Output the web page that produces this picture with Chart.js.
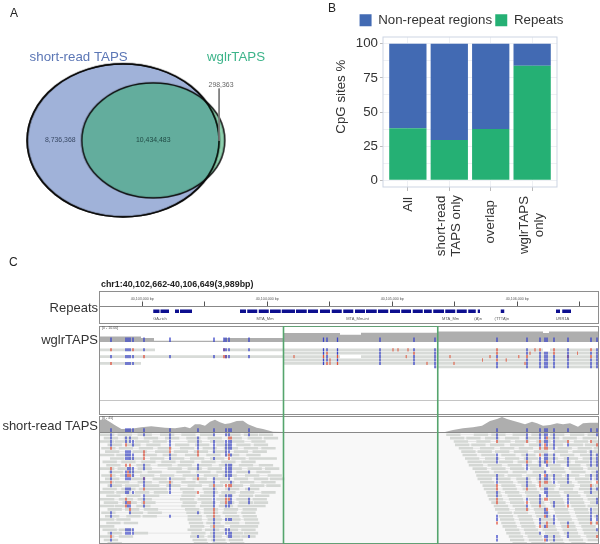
<!DOCTYPE html>
<html>
<head>
<meta charset="utf-8">
<title>wglrTAPS figure</title>
<script src="https://cdn.jsdelivr.net/npm/chart.js@4"></script>
<style>
  html, body { margin: 0; background: #fff; }
  #fig { position: relative; width: 600px; height: 544px; overflow: hidden; font-family: "Liberation Sans", Arial, sans-serif; filter: blur(0.35px); }
  #fig canvas { position: absolute; }
  .txt { position: absolute; white-space: nowrap; line-height: 1; color: #222; }
  .side { right: 502px; font-size: 13px; color: #333; }
  .letter { font-size: 12px; color: #222; }
  .tiny { font-size: 3.6px; color: #555; }
  .box { position: absolute; box-sizing: border-box; border: 1px solid #8e8e8e; left: 99px; width: 500px; }
  .line { position: absolute; left: 100px; width: 498px; height: 1px; }
</style>
</head>
<body>
<div id="fig">
  <div class="txt letter" style="left:10px;top:7px">A</div>
  <div class="txt letter" style="left:328px;top:2px">B</div>
  <div class="txt letter" style="left:9px;top:256px">C</div>
  <div class="txt" style="left:101px;top:280px;font-size:8.9px;font-weight:bold">chr1:40,102,662-40,106,649(3,989bp)</div>
  <div class="txt side" style="top:301px">Repeats</div>
  <div class="txt side" style="top:333px">wglrTAPS</div>
  <div class="txt side" style="top:419px">short-read TAPS</div>

  <div class="box" style="top:291px;height:33px"></div>
  <div class="box" style="top:326px;height:89px"></div>
  <div class="line" style="top:400px;background:#c4c4c4"></div>
  <div class="box" style="top:416px;height:128px"></div>
  <div class="line" style="top:432px;background:#888"></div>
  <div class="txt tiny" style="left:102px;top:327px">[0 - 10.00]</div>
  <div class="txt tiny" style="left:102px;top:417px">[0 - 45]</div>
</div>

<script>
// --- panel A: venn counts
const vennNames = ['short-read TAPS', 'wglrTAPS'];
const vennCounts = ['8,736,368', '10,434,483', '298,363'];

// --- panel B: CpG sites %
const categories = ['All', 'short-read\nTAPS only', 'overlap', 'wglrTAPS\nonly'];
const repeatPct = [38, 29.5, 37.5, 84];
const nonRepeatPct = [62, 70.5, 62.5, 16];
const yTickLabels = [0, 25, 50, 75, 100];
const yGridValues = [0, 12.5, 25, 37.5, 50, 62.5, 75, 87.5, 100];

// --- panel C: all positions in bp from chr1:40,102,662
const rulerMajor = [338, 1338, 2338, 3338];
const rulerMinor = [838, 1838, 2838, 3838];
const rulerLabels = ['40,103,000 bp', '40,104,000 bp', '40,105,000 bp', '40,106,000 bp'];
const repeatStart = [426, 484, 600, 640, 1120, 1178, 1270, 1360, 1454, 1568, 1664, 1760, 1854, 1946, 2040, 2128, 2224, 2320, 2410, 2502, 2592, 2666, 2762, 2854, 2946, 3022, 3206, 3648, 3698];
const repeatEnd = [476, 552, 632, 736, 1168, 1258, 1350, 1446, 1560, 1654, 1744, 1840, 1934, 2026, 2120, 2214, 2306, 2400, 2488, 2582, 2654, 2752, 2842, 2934, 3006, 3040, 3234, 3680, 3768];
const repeatNames = ['GA-rich', 'MTA_Mm', 'MTA_Mm-int', 'MTA_Mm', '(A)n', '(TTTA)n', 'URR1A'];
const repeatNameAt = [480, 1320, 2060, 2805, 3025, 3215, 3700];
const highlightStart = 1468;
const highlightEnd = 2702;

const wglrCovX = [0, 328, 328, 432, 432, 992, 992, 1464, 1464, 1920, 1920, 2088, 2088, 2696, 2696, 3544, 3544, 3592, 3592, 3984];
const wglrCovY = [3.7, 3.7, 2.6, 2.6, 0.8, 0.8, 2.7, 2.7, 6, 6, 4.8, 4.8, 6.2, 6.2, 7, 7, 6, 6, 7, 7];
const shortCovX = [0, 40, 77, 117, 171, 250, 330, 410, 520, 600, 680, 720, 760, 800, 840, 880, 920, 960, 1000, 1040, 1094, 1144, 1184, 1254, 1304, 1384, 1464, 2760, 2824, 2904, 2984, 3056, 3120, 3176, 3216, 3256, 3304, 3360, 3400, 3456, 3496, 3544, 3600, 3656, 3704, 3760, 3824, 3864, 3920, 3984];
const shortCovY = [36, 39, 31, 21, 9, 10, 14, 17, 13, 11, 16, 11, 23, 23, 19, 31, 37, 29, 24, 26, 33, 34, 23, 13, 9, 1, 0, 0, 6, 11, 14, 19, 33, 39, 45, 39, 34, 28, 23, 31, 26, 19, 21, 26, 23, 26, 16, 26, 28, 28];

// long reads, one list of [start, end] per row
const wglrReads = [
  [[0, 440], [992, 3544], [3600, 3984]],
  [[1464, 3984]],
  [[0, 1920], [2088, 3984]],
  [[1464, 3984]],
  [[0, 328], [1464, 3984]],
  [[2680, 3984]]
];
const wglrCols = [88, 208, 224, 240, 264, 352, 560, 912, 992, 1008, 1032, 1192, 1788, 1816, 1900, 2240, 2512, 2680, 3176, 3416, 3520, 3560, 3576, 3632, 3744, 3928, 3976];
const wglrBlue = [[2], [0, 2, 4], [0, 2, 4], [0, 2, 4], [2, 4], [0], [2], [2], [0], [0, 2], [0, 2], [0, 2], [0, 1, 3, 4], [0, 2, 3], [0, 1, 3], [0, 1, 2, 3, 4], [0, 2, 3, 4], [0, 1, 2, 3, 4, 5], [2, 4, 5], [0, 1, 3, 4, 5], [1, 2, 3, 4, 5], [1, 2, 3, 4, 5], [1, 2, 3, 4, 5], [2, 3, 4, 5], [0, 1, 2, 3, 4, 5], [1, 3, 4, 5], [0, 1, 2, 3, 4, 5]];
const wglrRed = [[0, 4], [], [], [], [0], [2], [], [], [0, 2], [2], [], [], [2], [1, 4], [2, 4], [], [1], [], [0, 1, 3], [2], [0], [], [], [0, 1], [2], [0, 2], []];
const wglrFaint = [[2344, 0], [2384, 0], [2464, 0], [2800, 2], [2832, 4], [1552, 2], [2450, 2], [1840, 3], [1840, 4], [3120, 2], [3440, 1], [3060, 3], [3250, 3], [2616, 4], [3350, 2], [3400, 4], [3480, 0], [3820, 1]];

// short reads, start of each read per row (reads are about 115 bp long)
const shortReadLen = 115;
const shortRows = [
  [0, 140, 300, 480, 650, 800, 1010, 1150, 1270, 2770, 2990, 3130, 3300, 3450, 3600, 3760, 3900],
  [30, 190, 350, 520, 690, 860, 1020, 1180, 1310, 2800, 2930, 3080, 3240, 3400, 3560, 3700, 3860],
  [0, 120, 280, 420, 700, 880, 1040, 1210, 2830, 3010, 3170, 3320, 3490, 3640, 3790, 3930],
  [60, 210, 370, 600, 760, 930, 1090, 1230, 2840, 2970, 3120, 3280, 3430, 3590, 3750, 3880],
  [10, 150, 310, 460, 640, 820, 990, 1150, 1290, 2870, 3040, 3200, 3350, 3510, 3660, 3820, 3950],
  [40, 260, 440, 590, 750, 900, 1070, 1220, 2890, 3020, 3160, 3310, 3470, 3630, 3780, 3910],
  [0, 130, 340, 500, 680, 850, 1000, 1170, 2900, 3050, 3210, 3370, 3530, 3680, 3840, 3960],
  [80, 230, 400, 560, 720, 880, 1050, 1190, 1300, 2920, 3080, 3240, 3390, 3550, 3710, 3860],
  [20, 170, 330, 490, 640, 810, 970, 1130, 2940, 3060, 3190, 3340, 3500, 3650, 3800, 3940],
  [50, 290, 460, 620, 780, 950, 1110, 1270, 2950, 3100, 3260, 3420, 3570, 3730, 3890],
  [0, 140, 300, 540, 700, 860, 1020, 1180, 1320, 2980, 3130, 3280, 3440, 3600, 3750, 3900],
  [70, 220, 380, 610, 770, 930, 1090, 1250, 3000, 3150, 3300, 3460, 3610, 3770, 3930],
  [10, 160, 320, 480, 660, 830, 980, 1160, 1340, 3010, 3120, 3260, 3410, 3580, 3720, 3880],
  [40, 250, 420, 570, 740, 900, 1070, 1230, 1360, 3020, 3170, 3330, 3490, 3640, 3800, 3950],
  [0, 120, 300, 470, 650, 790, 960, 1120, 1290, 3040, 3190, 3340, 3500, 3660, 3820],
  [60, 200, 360, 530, 700, 870, 1030, 1200, 1330, 3060, 3210, 3370, 3530, 3680, 3840, 3960],
  [20, 170, 310, 420, 640, 820, 1000, 1160, 3070, 3220, 3380, 3520, 3670, 3830, 3940],
  [0, 130, 280, 430, 660, 830, 970, 1120, 1290, 3090, 3240, 3400, 3560, 3710, 3870],
  [50, 210, 360, 650, 800, 950, 1110, 1240, 3100, 3260, 3410, 3570, 3730, 3890],
  [0, 150, 300, 640, 780, 930, 1090, 1220, 3110, 3270, 3430, 3590, 3750, 3900],
  [30, 180, 330, 660, 810, 960, 1110, 1230, 3130, 3280, 3440, 3600, 3760, 3920],
  [0, 120, 290, 650, 800, 950, 1100, 1210, 3150, 3300, 3450, 3610, 3770, 3900],
  [60, 200, 350, 680, 830, 990, 1140, 3160, 3320, 3470, 3630, 3790, 3940],
  [10, 230, 380, 690, 830, 980, 1130, 3180, 3310, 3480, 3640, 3800, 3930],
  [40, 210, 340, 700, 850, 1000, 1140, 3190, 3340, 3490, 3650, 3810, 3950],
  [0, 130, 700, 860, 1010, 1150, 3200, 3350, 3510, 3660, 3820],
  [50, 190, 710, 850, 1000, 1160, 3210, 3360, 3520, 3680, 3830, 3960],
  [0, 720, 880, 1040, 1150, 3220, 3370, 3530, 3690, 3850],
  [20, 150, 700, 840, 990, 1130, 3240, 3390, 3540, 3700, 3860],
  [60, 270, 730, 880, 1030, 1150, 3250, 3400, 3560, 3710, 3870],
  [0, 150, 720, 860, 1010, 1130, 3270, 3420, 3570, 3730, 3890],
  [30, 740, 890, 1030, 3280, 3430, 3590, 3750, 3900],
  [60, 750, 900, 1040, 3300, 3450, 3600, 3770]
];
const shortCols = [88, 208, 224, 240, 264, 352, 560, 784, 912, 1008, 1032, 1048, 1192, 3176, 3416, 3520, 3560, 3576, 3632, 3744, 3928, 3976];
const shortBlue = [
  [0, 1, 2, 3, 11, 13, 15, 23, 24, 29, 31],
  [1, 2, 5, 6, 7, 11, 12, 13, 16, 17, 20, 28, 29],
  [5, 6, 7, 10, 13, 16, 17, 21, 28, 29],
  [1, 2, 5, 6, 7, 10, 11, 13, 16, 21, 23, 28, 29],
  [2, 3, 6, 7, 10, 11, 12, 17, 28, 29],
  [0, 9, 10, 13, 14, 15, 18, 19, 21],
  [0, 1, 2, 3, 6, 7, 13, 15, 16, 17, 24],
  [1, 2, 3, 4, 9, 10, 12, 23, 30],
  [0, 2, 3, 4, 5, 7, 13, 14, 16, 17, 18, 19, 20, 21, 25, 26, 28, 29, 30, 31],
  [0, 2, 3, 4, 5, 6, 9, 10, 11, 12, 18, 21, 25, 28, 29],
  [0, 2, 3, 4, 5, 9, 10, 11, 12, 13, 16, 18, 20, 21, 25, 28, 29, 30],
  [2, 3, 4, 6, 9, 10, 11, 12, 14, 18, 19, 20, 25, 29, 30],
  [0, 11, 16, 19, 20, 30],
  [0, 1, 6, 7, 8, 12, 13, 14, 17, 18, 24, 25, 30, 31],
  [0, 1, 6, 7, 9, 10, 13, 14, 15, 19, 21],
  [0, 1, 3, 7, 8, 9, 12, 13, 18, 19, 20, 25, 26, 29],
  [0, 1, 2, 6, 7, 8, 11, 13, 16, 17, 22, 23, 27, 30],
  [0, 2, 3, 6, 7, 9, 12, 13, 16, 17, 18, 23, 24, 30, 31],
  [0, 1, 2, 3, 4, 6, 7, 8, 12, 13, 14, 20, 21, 24, 25, 26, 30, 31],
  [3, 7, 8, 9, 12, 13, 14, 18, 19, 20, 26, 29, 30],
  [5, 6, 7, 8, 9, 12, 13, 16, 17, 22, 23, 24, 25],
  [0, 6, 7, 8, 9, 11, 12, 13, 16, 19, 20, 24, 25, 28]
];
const shortRed = [
  [4, 10, 12, 14, 30],
  [3, 9, 19, 21],
  [11, 12, 20],
  [9, 12, 20, 22],
  [],
  [5, 6, 7, 13, 16, 20],
  [4, 5, 14],
  [5, 6, 13, 17],
  [15, 22, 23, 24, 27],
  [15, 19, 20],
  [1, 6, 7, 15, 19],
  [1, 15],
  [],
  [2, 15, 16, 19, 20, 26],
  [2, 8, 16, 20, 22],
  [2, 4, 6, 14, 15, 21, 27],
  [3, 4, 12, 14, 19, 24, 31],
  [1, 4, 8, 14, 19, 22, 26, 27],
  [],
  [2, 21, 27],
  [2, 15, 26],
  [3, 14, 26, 30]
];

// --- helpers
const fig = document.getElementById('fig');
const FONT = '"Liberation Sans", Arial, sans-serif';

function addCanvas(left, top, w, h) {
  const c = document.createElement('canvas');
  c.width = w;
  c.height = h;
  c.style.left = left + 'px';
  c.style.top = top + 'px';
  c.style.width = w + 'px';
  c.style.height = h + 'px';
  fig.appendChild(c);
  return c.getContext('2d');
}

// [x1, y1, x2, y2] pieces -> points with a gap after each piece
function pieces(list) {
  return list.flatMap(p => [{ x: p[0], y: p[1] }, { x: p[2], y: p[3] }, { x: p[2], y: null }]);
}

function lineSet(data, color, width, extra) {
  return Object.assign({
    data: data, showLine: true, pointRadius: 0, borderColor: color, borderWidth: width,
    borderCapStyle: 'butt', fill: false, tension: 0
  }, extra || {});
}

function markPieces(cols, rowsPerCol) {
  return cols.flatMap((c, i) => rowsPerCol[i].map(r => [c, r + 0.05, c, r + 0.95]));
}

// all track charts share the same x scale, 8 bp per pixel
function trackChart(left, top, h, yOpts, datasets, extra) {
  const cfg = {
    type: 'scatter',
    data: { datasets: datasets },
    plugins: (extra && extra.plugins) || [],
    options: {
      responsive: false,
      animation: false,
      events: [],
      layout: { padding: 0 },
      plugins: { legend: { display: false }, tooltip: { enabled: false } },
      scales: {
        x: (extra && extra.x) || { type: 'linear', display: false, min: 0, max: 3984 },
        y: Object.assign({ type: 'linear', display: false }, yOpts)
      }
    }
  };
  return new Chart(addCanvas(left, top, 498, h), cfg);
}

// --- panel A
function ellipseSprite(rx, ry, fill) {
  const c = document.createElement('canvas');
  c.width = Math.ceil(rx * 2 + 4);
  c.height = Math.ceil(ry * 2 + 4);
  const g = c.getContext('2d');
  g.beginPath();
  g.ellipse(c.width / 2, c.height / 2, rx, ry, 0, 0, Math.PI * 2);
  if (fill) { g.fillStyle = fill; g.fill(); }
  g.lineWidth = 1.5;
  g.strokeStyle = '#0a0a0a';
  g.stroke();
  return c;
}

const vennText = {
  id: 'vennText',
  afterDraw(chart) {
    const { ctx, scales } = chart;
    const put = (text, x, y, color, size) => {
      ctx.fillStyle = color;
      ctx.font = size + 'px ' + FONT;
      ctx.textAlign = 'center';
      ctx.textBaseline = 'middle';
      ctx.fillText(text, scales.x.getPixelForValue(x), scales.y.getPixelForValue(y));
    };
    put(vennNames[0], 76, 54, '#5b76b5', 13.3);
    put(vennNames[1], 238.5, 54, '#3db48a', 13.3);
    put(vennCounts[0], 57, 141, '#3a4a66', 6.9);
    put(vennCounts[1], 153, 141, '#1f4a44', 6.9);
    put(vennCounts[2], 223, 83.5, '#666', 6.9);
  }
};

new Chart(addCanvas(0, 0, 320, 250), {
  type: 'scatter',
  data: {
    datasets: [
      lineSet(pieces([[221, 87, 221, 141.5]]), '#7a7a7a', 1),
      { data: [{ x: 122, y: 141 }], pointRadius: 1, pointStyle: ellipseSprite(96, 76.5, null) },
      { data: [{ x: 153, y: 141 }], pointRadius: 1, pointStyle: ellipseSprite(71.5, 57.5, 'rgba(50,170,108,0.55)') },
      { data: [{ x: 122, y: 141 }], pointRadius: 1, pointStyle: ellipseSprite(96, 76.5, '#a0b2d9') }
    ]
  },
  plugins: [vennText],
  options: {
    responsive: false,
    animation: false,
    events: [],
    plugins: { legend: { display: false }, tooltip: { enabled: false } },
    scales: {
      x: { display: false, min: 0, max: 320 },
      y: { display: false, min: 0, max: 250, reverse: true }
    }
  }
});

// --- panel B
const labelTop = [197, 195, 200, 196];

const panelBorder = {
  id: 'panelBorder',
  afterLayout(chart) {
    // legend sits further right than the plot centre
    chart.legend.left += 23;
    chart.legend.right += 23;
  },
  afterDraw(chart) {
    const { ctx, chartArea: a, scales } = chart;
    ctx.save();
    ctx.strokeStyle = '#cdd5e3';
    ctx.lineWidth = 1;
    ctx.strokeRect(a.left, a.top, a.right - a.left, a.bottom - a.top);
    ctx.fillStyle = '#333';
    ctx.font = '13.3px ' + FONT;
    ctx.textBaseline = 'middle';
    ctx.textAlign = 'center';
    // y title sits above the middle of the panel
    ctx.save();
    ctx.translate(21.5, 96.7);
    ctx.rotate(-Math.PI / 2);
    ctx.fillText('CpG sites %', 0, 0);
    ctx.restore();
    // x labels, lines centred on each other and hanging from the top
    categories.forEach((c, i) => {
      const lines = c.split('\n');
      const w = Math.max(...lines.map(l => ctx.measureText(l).width));
      lines.forEach((l, j) => {
        ctx.save();
        ctx.translate(scales.x.getPixelForValue(i + 1) + (j - (lines.length - 1) / 2) * 15, labelTop[i] + w / 2);
        ctx.rotate(-Math.PI / 2);
        ctx.fillText(l, 0, 0);
        ctx.restore();
      });
    });
    ctx.restore();
  }
};

new Chart(addCanvas(320, 0, 280, 270), {
  type: 'bar',
  data: {
    datasets: [
      { label: 'Repeats', data: repeatPct.map((v, i) => ({ x: i + 1, y: v })), backgroundColor: '#25b074', barPercentage: 0.9, categoryPercentage: 1 },
      { label: 'Non-repeat regions', data: nonRepeatPct.map((v, i) => ({ x: i + 1, y: v })), backgroundColor: '#426ab3', barPercentage: 0.9, categoryPercentage: 1 }
    ]
  },
  plugins: [panelBorder],
  options: {
    responsive: false,
    animation: false,
    events: [],
    layout: { padding: { top: 10.5, right: 43, left: 0, bottom: 0 } },
    plugins: {
      tooltip: { enabled: false },
      legend: {
        reverse: true,
        labels: { boxWidth: 12, boxHeight: 12, padding: 3.2, color: '#333', font: { family: FONT, size: 13.3 } }
      }
    },
    scales: {
      x: {
        type: 'linear',
        offset: false,
        stacked: true,
        min: 0.4,
        max: 4.6,
        afterBuildTicks: axis => { axis.ticks = categories.map((c, i) => ({ value: i + 1 })); },
        afterFit: axis => { axis.height = 83; },
        grid: { offset: false, color: '#eef0f4', tickLength: 4, tickColor: '#bbb' },
        border: { display: false },
        ticks: { display: false }
      },
      y: {
        stacked: true,
        min: -5,
        max: 105,
        afterBuildTicks: axis => { axis.ticks = yGridValues.map(v => ({ value: v })); },
        afterFit: axis => { axis.width = 63; },
        grid: { color: '#eef0f4', tickLength: 3, tickColor: ctx => (yTickLabels.includes(ctx.tick.value) ? '#bbb' : 'transparent') },
        border: { display: false },
        ticks: {
          autoSkip: false, padding: 2, color: '#333', font: { family: FONT, size: 13.3 },
          callback: v => (yTickLabels.includes(v) ? String(v) : '')
        }
      }
    }
  }
});

// --- panel C: ruler and repeats
const repeatText = {
  id: 'repeatText',
  afterDraw(chart) {
    const { ctx, scales } = chart;
    ctx.fillStyle = '#555';
    ctx.font = '4px ' + FONT;
    ctx.textAlign = 'center';
    ctx.textBaseline = 'middle';
    repeatNames.forEach((n, i) => ctx.fillText(n, scales.x.getPixelForValue(repeatNameAt[i]), scales.y.getPixelForValue(0.78)));
  }
};

const rulerTicks = rulerMajor.concat(rulerMinor).sort((a, b) => a - b);
trackChart(100, 292, 31, { min: 0, max: 1, reverse: true }, [
  lineSet(pieces(repeatStart.map((s, i) => [s, 0.31, repeatEnd[i], 0.31])), '#0d0f8f', 3.5)
], {
  plugins: [repeatText],
  x: {
    type: 'linear', position: 'top', min: 0, max: 3984,
    afterBuildTicks: axis => { axis.ticks = rulerTicks.map(v => ({ value: v })); },
    afterFit: axis => { axis.height = 14; },
    grid: { drawOnChartArea: false, tickLength: 4.5, tickColor: '#555', tickWidth: 1 },
    border: { color: '#888' },
    ticks: {
      autoSkip: false, maxRotation: 0, padding: 0.5, color: '#555', font: { family: FONT, size: 3.6 },
      callback: v => { const i = rulerMajor.indexOf(v); return i >= 0 ? rulerLabels[i] : ''; }
    }
  }
});

// --- panel C: wglrTAPS coverage and reads
trackChart(100, 327, 15, { min: 0, max: 10 }, [
  lineSet(pieces(wglrCols.map(c => [c, 0, c, 3])), '#3a44c8', 1.3),
  lineSet(wglrCovX.map((x, i) => ({ x: x, y: wglrCovY[i] })), 'rgba(0,0,0,0)', 0, { fill: 'origin', backgroundColor: '#aeaeae' })
]);

trackChart(100, 342, 58, { min: -1.8, max: 15.26, reverse: true }, [
  lineSet(pieces(markPieces(wglrCols, wglrBlue)), '#3a44c8', 1.3),
  lineSet(pieces(markPieces(wglrCols, wglrRed)), '#e0503c', 1.3),
  lineSet(pieces(wglrFaint.map(m => [m[0], m[1] + 0.05, m[0], m[1] + 0.95])), 'rgba(224,110,90,0.55)', 1),
  lineSet(pieces(wglrReads.flatMap((segs, r) => segs.map(s => [s[0], r + 0.5, s[1], r + 0.5]))), '#d8dbd8', 2.8)
]);

// --- panel C: short-read coverage and reads
trackChart(100, 417, 15, { min: 0, max: 45 }, [
  lineSet(pieces(shortCols.map(c => [c, 0, c, 11])), '#3a44c8', 1.3),
  lineSet(shortCovX.map((x, i) => ({ x: x, y: shortCovY[i] })), 'rgba(0,0,0,0)', 0, { fill: 'origin', backgroundColor: '#aeaeae' })
]);

const readPieces = shortRows.flatMap((row, r) => row.map(s => [s, r + 0.5, s + shortReadLen, r + 0.5]));
// thin line between reads of the same pair
const linkPieces = shortRows.flatMap((row, r) => row.slice(1)
  .map((s, i) => [row[i] + shortReadLen, r + 0.5, s, r + 0.5])
  .filter(p => p[2] - p[0] < 400));

const shortChart = trackChart(100, 433, 110, { min: 0, max: 32.4, reverse: true }, [
  lineSet(pieces(markPieces(shortCols, shortBlue)), '#3a44c8', 1.3),
  lineSet(pieces(markPieces(shortCols, shortRed)), '#e0503c', 1.3),
  lineSet(pieces(readPieces), '#d4d7d4', 2.6),
  lineSet(pieces(linkPieces), '#e0e0e0', 0.8)
]);
shortChart.canvas.style.background = '#f8f8f8';

// --- green highlight on top of both read tracks
trackChart(100, 326, 218, { min: 0, max: 1, reverse: true }, [
  lineSet([
    { x: highlightStart, y: 1 }, { x: highlightStart, y: 0 }, { x: highlightEnd, y: 0 },
    { x: highlightEnd, y: 1 }, { x: highlightStart, y: 1 }
  ], '#55a56d', 1.6, { clip: false })
]);
</script>
</body>
</html>
